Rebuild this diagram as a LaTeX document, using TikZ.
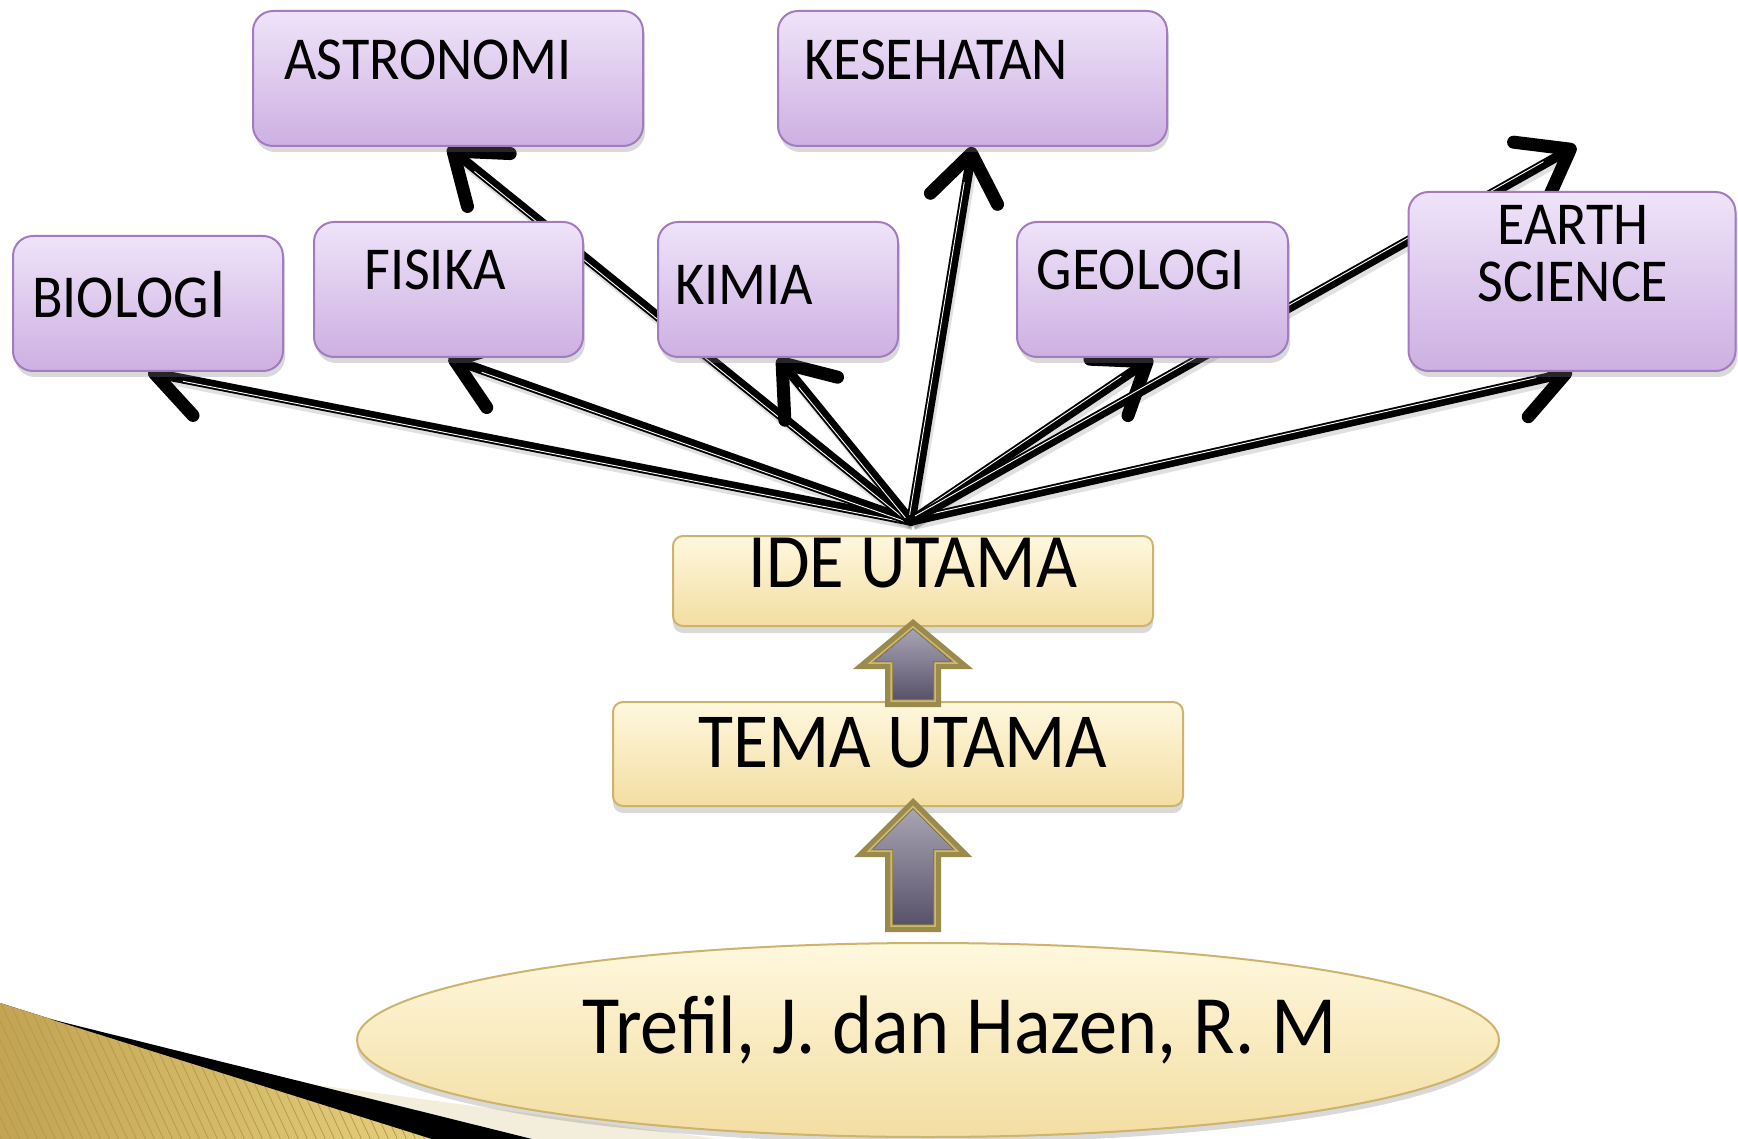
\documentclass[tikz,border=0pt]{standalone}
\usepackage{fontspec}
\setmainfont{Carlito}[FakeStretch=0.92]
\usetikzlibrary{arrows.meta,shadows,backgrounds,shapes.geometric,calc}
\definecolor{pbord}{HTML}{A27BC0}
\definecolor{ptop}{HTML}{EFE3F9}
\definecolor{pbot}{HTML}{CDB0E2}
\definecolor{ybord}{HTML}{CDB36B}
\definecolor{ytop}{HTML}{FFF8DE}
\definecolor{ybot}{HTML}{F3DEA2}
\definecolor{olive}{HTML}{9A8A4C}
\definecolor{oliveL}{HTML}{CDBA72}
\definecolor{atop}{HTML}{A9A4B3}
\definecolor{abot}{HTML}{58536A}
\definecolor{goldA}{HTML}{C2A452}
\definecolor{goldB}{HTML}{E6D07E}
\definecolor{goldS}{HTML}{B89A4C}
\definecolor{cream}{HTML}{F3EEDC}
\tikzset{
  pbox/.style={draw=pbord, line width=2pt, rounded corners=20pt, top color=ptop, bottom color=pbot,
    drop shadow={opacity=0.3, shadow xshift=2pt, shadow yshift=-6pt}, inner sep=0pt},
  ybox/.style={draw=ybord, line width=2pt, rounded corners=10pt, top color=ytop, bottom color=ybot,
    drop shadow={opacity=0.3, shadow xshift=0pt, shadow yshift=-7pt}, inner sep=0pt},
  lbl/.style={font=\fontsize{61}{66}\selectfont, inner sep=0pt, anchor=base, text=black},
  conn/.style={line width=9.5pt, line cap=round, draw=black,
    -{Straight Barb[length=46pt, width=68pt, line width=13pt, round]}},
  connshadow/.style={line width=10pt, draw=black, opacity=0.12, shorten >=20pt,
    transform canvas={xshift=2pt, yshift=-4pt}},
  conninner/.style={draw=white, line width=0.9pt, shorten >=36pt, shorten <=6pt},
}
\begin{document}
\begin{tikzpicture}[x=1pt,y=-1pt]
\useasboundingbox (0,0) rectangle (1738,1139);

\coordinate (hub) at (911,521);
\coordinate (earthtop) at (1576,146);

% boxes
\node[pbox, minimum width=390pt, minimum height=135pt] (astronomi) at (448,78.5) {};
\node[pbox, minimum width=389pt, minimum height=135pt] (kesehatan) at (972.5,78.5) {};
\node[pbox, minimum width=270pt, minimum height=135pt] (biologi) at (148,303.5) {};
\node[pbox, minimum width=269pt, minimum height=135pt] (fisika) at (448.5,289.5) {};
\node[pbox, minimum width=240pt, minimum height=135pt] (kimia) at (778,289.5) {};
\node[pbox, minimum width=271pt, minimum height=135pt] (geologi) at (1152.5,289.5) {};
\node[pbox, minimum width=327pt, minimum height=179pt] (earth) at (1572,281.5) {};

\node[ybox, minimum width=480pt, minimum height=90pt] (ide) at (913,581) {};
\node[ybox, minimum width=570pt, minimum height=104pt] (tema) at (898,754) {};
\node[ellipse, draw=ybord, line width=2pt, top color=ytop, bottom color=ybot,
      drop shadow={opacity=0.3, shadow xshift=0pt, shadow yshift=-6pt},
      minimum width=1142pt, minimum height=194pt, inner sep=0pt] (src) at (928,1040) {};

% labels
\node[lbl] (astronomi-t) at (428,80) {ASTRONOMI};
\node[lbl] (kesehatan-t) at (936,80) {KESEHATAN};
\node[lbl] (biologi-t) at (129,318) {BIOLOG{\fontsize{72}{76}\selectfont I}};
\node[lbl] (fisika-t) at (435,290) {FISIKA};
\node[lbl] (kimia-t) at (744,305) {KIMIA};
\node[lbl] (geologi-t) at (1141,290) {GEOLOGI};
\node[lbl] (earth-t1) at (1573,245) {EARTH};
\node[lbl] (earth-t2) at (1573,301.5) {SCIENCE};
\node[lbl, font=\fontsize{77}{82}\selectfont] (ide-t) at (913,587) {IDE UTAMA};
\node[lbl, font=\fontsize{78}{84}\selectfont] (tema-t) at (903,767) {TEMA UTAMA};
\node[lbl, font=\fontsize{83}{90}\selectfont] (src-t) at (960,1053) {Trefil, J. dan Hazen, R. M};

% block arrows
\fill[olive] (913,619) -- (973,669) -- (941,669) -- (941,707) -- (885,707) -- (885,669) -- (853,669) -- cycle;
\draw[oliveL, line width=1.5pt] (913,626.8) -- (956.4,663) -- (935,663) -- (935,701) -- (891,701) -- (891,663) -- (869.6,663) -- cycle;
\fill[top color=atop, bottom color=abot] (913,629.4) -- (950.9,661) -- (933,661) -- (933,699) -- (893,699) -- (893,661) -- (875.1,661) -- cycle;

\fill[olive] (913,798) -- (972,857) -- (941,857) -- (941,932) -- (885,932) -- (885,857) -- (854,857) -- cycle;
\draw[oliveL, line width=1.5pt] (913,806.5) -- (957.5,851) -- (935,851) -- (935,926) -- (891,926) -- (891,851) -- (868.5,851) -- cycle;
\fill[top color=atop, bottom color=abot] (913,809.3) -- (952.7,849) -- (933,849) -- (933,924) -- (893,924) -- (893,849) -- (873.3,849) -- cycle;

\begin{scope}[on background layer]
  % bottom-left decoration
  \fill[cream] (190,1068) -- (720,1139) -- (532,1139) -- cycle;
  \begin{scope}
    \clip (0,1003) -- (432,1139) -- (0,1139) -- cycle;
    \fill[left color=goldA, right color=goldB] (0,1000) rectangle (440,1139);
    \foreach \i in {-120,-111,...,440} \draw[goldS, line width=0.8pt] (\i,995) -- ++(75,160);
  \end{scope}
  \fill[black] (50,1019) -- (532,1139) -- (432,1139) -- cycle;
  % connectors
  \foreach \t in {biologi,fisika,astronomi,kimia,kesehatan,geologi,earth}{
    \draw[connshadow] (hub) -- (\t.south);
  }
  \draw[connshadow] (hub) -- (earthtop);
  \foreach \t in {biologi,fisika,astronomi,kimia,kesehatan,geologi,earth}{
    \draw[conn] (hub) -- (\t.south);
    \draw[conninner] ($(hub)!2.4pt!90:(\t.south)$) -- ($(\t.south)!2.4pt!-90:(hub)$);
  }
  \draw[conn] (hub) -- (earthtop);
  \draw[conninner] ($(hub)!2.4pt!90:(earthtop)$) -- ($(earthtop)!2.4pt!-90:(hub)$);
\end{scope}
\end{tikzpicture}
\end{document}
